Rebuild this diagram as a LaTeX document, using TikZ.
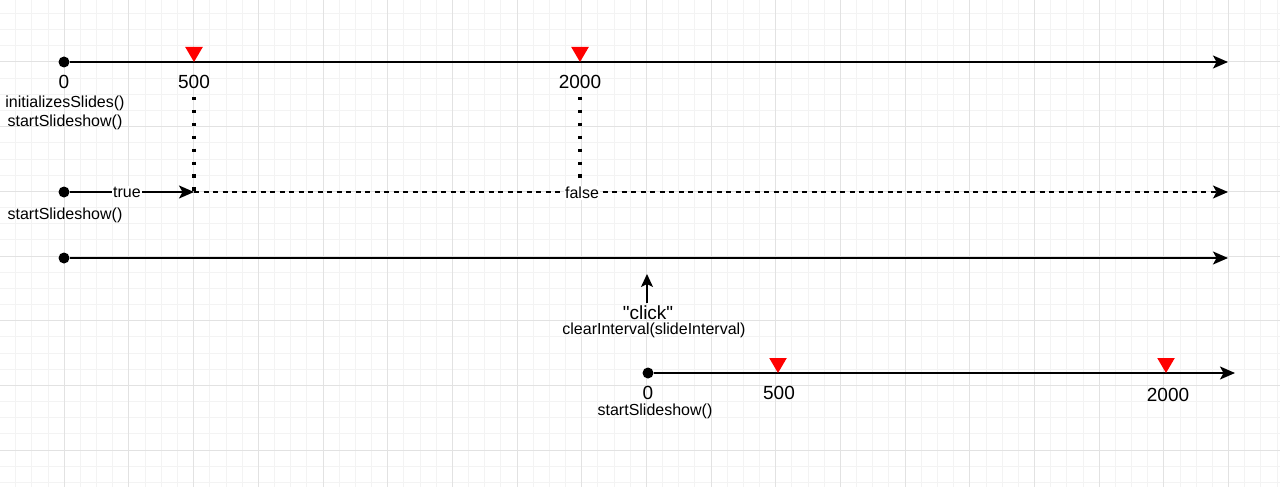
\documentclass[tikz,border=0pt]{standalone}
\usepackage{fontspec}
\setmainfont{Liberation Sans}[Ligatures=TeXOff]
\usetikzlibrary{arrows.meta,positioning}

\definecolor{gridminor}{HTML}{F3F3F3}
\definecolor{gridmajor}{HTML}{E2E2E2}

\begin{document}
\begin{tikzpicture}[x=1pt, y=-1pt, >={Stealth[length=15pt,width=13pt,inset=3.5pt]},
  dot/.style={circle, fill=black, inner sep=0pt, minimum size=11pt},
  axis/.style={line width=1.7pt, ->},
  big/.style={font=\fontsize{19}{22}\selectfont, inner sep=0pt},
  small/.style={font=\fontsize{16}{19}\selectfont, inner sep=0pt},
  onlabel/.style={small, fill=white, inner sep=1pt}]
  % page and grid
  \fill[white] (0,0) rectangle (1280,487);
  \useasboundingbox (0,0) rectangle (1280,487);
  \foreach \i in {-3,...,75}
    \draw[gridminor, line width=1pt] ({64.3+16.17*\i},0) -- ++(0,487);
  \foreach \j in {-3,...,26}
    \draw[gridminor, line width=1pt] (0,{62+16.17*\j}) -- ++(1280,0);
  \foreach \i in {0,...,18}
    \draw[gridmajor, line width=1pt] ({64.3+64.68*\i},0) -- ++(0,487);
  \foreach \j in {0,...,6}
    \draw[gridmajor, line width=1pt] (0,{62+64.68*\j}) -- ++(1280,0);

  % first timeline
  \node[dot] (a0) at (64,62) {};
  \coordinate (aend) at (1228,62);
  \draw[axis] (a0) -- (aend);

  % second timeline
  \node[dot] (b0) at (64,192) {};
  \coordinate (b500) at (194,192);
  \coordinate (b2000) at (580,192);
  \coordinate (bend) at (1228,192);
  \draw[axis] (b0) -- (b500);
  \draw[line width=1.6pt, dash pattern=on 5pt off 4.5pt, ->] (b500) -- (bend);

  % third timeline
  \node[dot] (c0) at (64,258) {};
  \coordinate (cend) at (1228,258);
  \draw[axis] (c0) -- (cend);

  % fourth timeline
  \node[dot] (d0) at (648,373) {};
  \coordinate (dend) at (1235,373);
  \draw[axis] (d0) -- (dend);

  % timeouts
  \foreach \tx/\ty in {194/62, 580/62, 778/373, 1166/373}
    \fill[red] (\tx,\ty) -- ++(-8.8,-15) -- ++(17.6,0) -- cycle;

  % dotted links
  \coordinate (t500) at (194,97);
  \coordinate (t2000) at (580,97);
  \draw[line width=3.2pt, dash pattern=on 3.2pt off 9.7pt] (t500) -- (b500);
  \draw[line width=3.2pt, dash pattern=on 3.2pt off 9.7pt] (t2000) -- (b2000);

  % labels
  \node[big] (l0) at (64,82) {0};
  \node[big] (l500) at (194,82) {500};
  \node[big] (l2000) at (580,82) {2000};
  \node[small] (init) at (65,103) {initializesSlides()};
  \node[small] (start1) at (65,122) {startSlideshow()};
  \node[onlabel] (ltrue) at (127,192) {true};
  \node[onlabel] (lfalse) at (582,193) {false};
  \node[small] (start2) at (65,215) {startSlideshow()};

  % click
  \coordinate (cbot) at (647,303);
  \coordinate (ctop) at (647,274);
  \draw[line width=1.6pt, -{Stealth[length=13pt,width=12pt,inset=3pt]}] (cbot) -- (ctop);
  \node[big] (click) at (648,313) {"click"};
  \node[small] (clear) at (654,330) {clearInterval(slideInterval)};

  \node[big] (m0) at (648,393) {0};
  \node[big] (m500) at (779,393) {500};
  \node[big] (m2000) at (1168,395) {2000};
  \node[small] (start3) at (655,411) {startSlideshow()};
\end{tikzpicture}
\end{document}
